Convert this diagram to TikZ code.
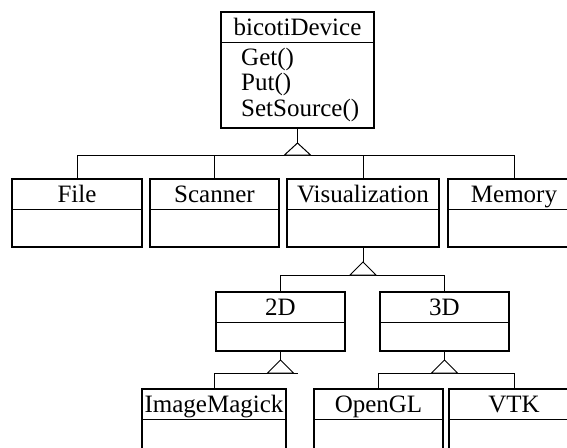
\documentclass[tikz,border=0pt]{standalone}
\usepackage{fontspec}
\setmainfont{Liberation Serif}
\newcommand\mkclass[6]{%
  \node[cls, minimum width=#4pt, minimum height=#5pt] (#1) at (#2,#3) {};
  \draw[sepl] ([yshift=-30.5pt]#1.north west) -- ([yshift=-30.5pt]#1.north east);
  \node[ttl] (#1-t) at ([yshift=-23pt]#1.north) {#6};
}
\begin{document}
\begin{tikzpicture}[x=1pt,y=-1pt,
  cls/.style={draw, line width=2.6pt, inner sep=0pt, outer sep=0pt, anchor=north west},
  ttl/.style={anchor=base, inner sep=0pt, font=\fontsize{25}{26}\selectfont},
  meth/.style={anchor=base west, inner sep=0pt, font=\fontsize{25}{26}\selectfont},
  sepl/.style={line width=1pt},
  conn/.style={line width=1pt},
  tri/.style={line width=1pt, fill=white}]
\useasboundingbox (0,0) rectangle (567,447);
\clip (0,0) rectangle (567,447);
% classes
\node[cls, minimum width=153pt, minimum height=116pt] (dev) at (221,12) {};
\draw[sepl] ([yshift=-30pt]dev.north west) -- ([yshift=-30pt]dev.north east);
\node[ttl] (dev-t) at ([yshift=-23.5pt]dev.north) {bicotiDevice};
\node[meth] (dev-m1) at ([xshift=20pt,yshift=-53pt]dev.north west) {Get()};
\node[meth] (dev-m2) at ([xshift=20pt,yshift=-78pt]dev.north west) {Put()};
\node[meth] (dev-m3) at ([xshift=20pt,yshift=-104pt]dev.north west) {SetSource()};
\mkclass{file}{12}{179}{130}{68}{File}
\mkclass{scan}{150}{179}{129}{68}{Scanner}
\mkclass{vis}{287}{179}{152}{68}{Visualization}
\mkclass{mem}{448}{179}{132}{68}{Memory}
\mkclass{d2}{216}{292}{129}{59}{2D}
\mkclass{d3}{380}{292}{129}{59}{3D}
\mkclass{img}{142}{389}{144}{68}{ImageMagick}
\mkclass{ogl}{314}{389}{129}{68}{OpenGL}
\mkclass{vtk}{449}{389}{130}{68}{VTK}
% inheritance: bicotiDevice
\coordinate (tip1) at (dev.south |- 0,143);
\draw[conn] (dev.south) -- (tip1);
\draw[conn] (file.north |- 0,155) -- (mem.north |- 0,155);
\foreach \c in {file,scan,vis,mem} \draw[conn] (\c.north) -- (\c.north |- 0,155);
\draw[tri] (tip1) -- ++(-13,12) -- ++(26,0) -- cycle;
% inheritance: Visualization
\coordinate (tip2) at (vis.south |- 0,262);
\draw[conn] (vis.south) -- (tip2);
\draw[conn] (d2.north |- 0,275) -- (d3.north |- 0,275);
\foreach \c in {d2,d3} \draw[conn] (\c.north) -- (\c.north |- 0,275);
\draw[tri] (tip2) -- ++(-13,13) -- ++(26,0) -- cycle;
% inheritance: 2D
\coordinate (tip3) at (d2.south |- 0,360);
\coordinate (bus3e) at (298,373);
\draw[conn] (d2.south) -- (tip3);
\draw[conn] (img.north |- 0,373) -- (bus3e);
\draw[conn] (img.north) -- (img.north |- 0,373);
\draw[tri] (tip3) -- ++(-13,13) -- ++(26,0) -- cycle;
% inheritance: 3D
\coordinate (tip4) at (d3.south |- 0,360);
\draw[conn] (d3.south) -- (tip4);
\draw[conn] (ogl.north |- 0,373) -- (vtk.north |- 0,373);
\foreach \c in {ogl,vtk} \draw[conn] (\c.north) -- (\c.north |- 0,373);
\draw[tri] (tip4) -- ++(-13,13) -- ++(26,0) -- cycle;
\end{tikzpicture}
\end{document}
